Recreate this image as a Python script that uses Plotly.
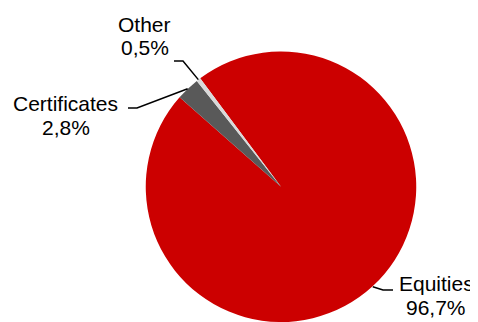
import math
import plotly.graph_objects as go

# ---- data ----
labels = ["Equities", "Certificates", "Other"]
values = [96.7, 2.8, 0.5]
colors = ["#CC0000", "#595959", "#D9D9D9"]

# ---- layout constants ----
VIEW_W, VIEW_H = 478, 322
OFF = 8                                   # page body margin
W, H = VIEW_W - OFF, VIEW_H - OFF
CX, CY, R = 281.0, 187.0, 135.5          # pie centre / radius in page pixels
ROTATION = -36.7                          # degrees, clockwise from 12 o'clock
FONT = "Liberation Sans, Arial, sans-serif"
FS = 21

# label placement (page pixels): centre x, middle y of line 1 / line 2, elbow, end of leader
label_layout = {
    "Equities":     dict(x=436, y1=283.7, y2=307.5, elbow=(383, 290), end=(393, 290)),
    "Certificates": dict(x=65.5, y1=103.7, y2=127.3, elbow=(137, 108), end=(128, 108)),
    "Other":        dict(x=144.5, y1=24.7, y2=47.3, elbow=(183, 61), end=(174, 61)),
}


def px(x):
    return (x - OFF) / W


def py(y):
    return 1 - (y - OFF) / H


fig = go.Figure(
    go.Pie(
        labels=labels,
        values=values,
        sort=False,
        direction="clockwise",
        rotation=ROTATION,
        marker=dict(colors=colors, line=dict(width=0)),
        textinfo="none",
        hoverinfo="label+percent",
        showlegend=False,
        domain=dict(x=[px(CX - R), px(CX + R)], y=[max(0, py(CY + R)), py(CY - R)]),
    )
)

total = sum(values)
annotations = []
shapes = []
cum = 0.0
for lab, v in zip(labels, values):
    mid = ROTATION + 360 * (cum + v / 2) / total
    cum += v
    a = math.radians(mid)
    ex, ey = CX + R * math.sin(a), CY - R * math.cos(a)
    L = label_layout[lab]
    pct = f"{v:.1f}".replace(".", ",") + "%"
    for txt, yy in ((lab, L["y1"]), (pct, L["y2"])):
        annotations.append(dict(
            text=txt, x=px(L["x"]), y=py(yy), xref="paper", yref="paper",
            xanchor="center", yanchor="middle", showarrow=False,
            font=dict(family=FONT, size=FS, color="#000000"),
        ))
    (bx, by), (tx, ty) = L["elbow"], L["end"]
    shapes.append(dict(
        type="path", xref="paper", yref="paper",
        path=f"M {px(ex)} {py(ey)} L {px(bx)} {py(by)} L {px(tx)} {py(ty)}",
        line=dict(color="#000000", width=1.5),
    ))

fig.update_layout(
    width=W, height=H,
    margin=dict(l=0, r=0, t=0, b=0),
    paper_bgcolor="#FFFFFF",
    plot_bgcolor="#FFFFFF",
    annotations=annotations,
    shapes=shapes,
)

fig.write_html("out.html")
